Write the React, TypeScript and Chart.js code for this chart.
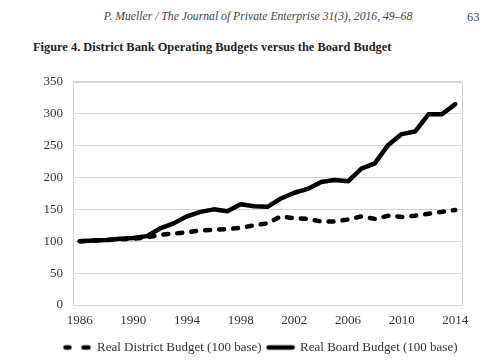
import React, { useEffect, useRef } from 'react';
import { Chart, registerables } from 'chart.js';
Chart.register(...registerables);

const years = ['1986','1987','1988','1989','1990','1991','1992','1993','1994','1995','1996','1997','1998','1999','2000','2001','2002','2003','2004','2005','2006','2007','2008','2009','2010','2011','2012','2013','2014'];
const tickYears = ['1986','1990','1994','1998','2002','2006','2010','2014'];
const districtBudget = [100,101,102,103,104,106,110,112,114,117,118,119,121,125,128,139,136,135,131,131,134,139,135,140,138,140,143,146,149];
const boardBudget = [100,101,102,104,105,108,120,128,139,146,150,147,158,155,154,167,176,182,193,196,194,214,222,251,268,272,299,299,315];
const districtLabel = 'Real District Budget (100 base)';
const boardLabel = 'Real Board Budget (100 base)';
const headerText = 'P. Mueller / The Journal of Private Enterprise 31(3), 2016, 49–68';
const pageNumber = '63';
const figureTitle = 'Figure 4. District Bank Operating Budgets versus the Board Budget';

const FONT = '"Liberation Serif", "DejaVu Serif", serif';

function makeMarker(dashed: boolean): HTMLCanvasElement {
  const c = document.createElement('canvas');
  c.width = 30;
  c.height = 8;
  const ctx = c.getContext('2d')!;
  ctx.strokeStyle = '#000';
  ctx.lineWidth = 4.5;
  ctx.lineCap = 'round';
  ctx.beginPath();
  if (dashed) {
    ctx.moveTo(3, 4); ctx.lineTo(7, 4);
    ctx.moveTo(21, 4); ctx.lineTo(26, 4);
  } else {
    ctx.moveTo(3, 4); ctx.lineTo(27, 4);
  }
  ctx.stroke();
  return c;
}

export default function App() {
  const ref = useRef<HTMLCanvasElement | null>(null);
  useEffect(() => {
    if (!ref.current) return;
    const markers = [makeMarker(true), makeMarker(false)];
    const borderPlugin = {
      id: 'plotBorder',
      afterLayout(chart: any) {
        const lg = chart.legend;
        if (lg) {
          lg.left += 30;
          lg.right += 30;
          lg.top += 4;
          lg.bottom += 4;
        }
      },
      afterDraw(chart: any) {
        const { ctx, chartArea } = chart;
        ctx.save();
        ctx.strokeStyle = '#d4d4d4';
        ctx.lineWidth = 1;
        ctx.strokeRect(chartArea.left + 0.5, chartArea.top + 0.5, chartArea.right - chartArea.left, chartArea.bottom - chartArea.top);
        ctx.restore();
      },
    };
    const chart = new Chart(ref.current, {
      type: 'line',
      data: {
        labels: years,
        datasets: [
          {
            label: districtLabel,
            data: districtBudget,
            borderColor: '#000',
            borderWidth: 4.5,
            borderDash: [5, 9],
            borderCapStyle: 'round',
            borderJoinStyle: 'round',
            pointRadius: 0,
            tension: 0,
          },
          {
            label: boardLabel,
            data: boardBudget,
            borderColor: '#000',
            borderWidth: 4.5,
            borderCapStyle: 'round',
            borderJoinStyle: 'round',
            pointRadius: 0,
            tension: 0,
          },
        ],
      },
      options: {
        animation: false,
        responsive: false,
        layout: { padding: { left: 0, right: 23, top: 6, bottom: 0 } },
        plugins: {
          tooltip: { enabled: false },
          legend: {
            position: 'bottom',
            labels: {
              usePointStyle: true,
              pointStyleWidth: 26,
              padding: 6,
              color: '#333',
              font: { family: FONT, size: 13 },
              generateLabels: (c: any) =>
                c.data.datasets.map((ds: any, i: number) => ({
                  text: ds.label,
                  pointStyle: markers[i],
                  fillStyle: '#000',
                  strokeStyle: '#000',
                  lineWidth: 0,
                  hidden: false,
                  datasetIndex: i,
                  fontColor: '#333',
                })),
            },
          },
        },
        scales: {
          x: {
            offset: true,
            afterFit: (axis: any) => { axis.height = 26; },
            grid: { display: false, drawTicks: false },
            border: { display: true, color: '#d4d4d4' },
            ticks: {
              autoSkip: false,
              maxRotation: 0,
              padding: 8,
              color: '#333',
              font: { family: FONT, size: 13 },
              callback: function (this: any, v: any) {
                const l = years[v as number];
                return tickYears.includes(l) ? l : '';
              },
            },
          },
          y: {
            min: 0,
            max: 350,
            afterFit: (axis: any) => { axis.width = 73; },
            grid: { color: '#d4d4d4', drawTicks: false },
            border: { display: true, color: '#d4d4d4' },
            ticks: {
              stepSize: 50,
              padding: 10,
              color: '#333',
              font: { family: FONT, size: 13 },
            },
          },
        },
      },
      plugins: [borderPlugin],
    } as any);
    return () => chart.destroy();
  }, []);

  return (
    <div style={{ position: 'absolute', left: 0, top: 0, width: 485, height: 360, background: '#fff', fontFamily: FONT }}>
      <div style={{ position: 'absolute', left: 0, width: 516, top: 10, textAlign: 'center', fontStyle: 'italic', fontSize: 11.7, color: '#444', whiteSpace: 'nowrap' }}>{headerText}</div>
      <div style={{ position: 'absolute', left: 467, top: 10, fontSize: 12.5, color: '#444' }}>{pageNumber}</div>
      <div style={{ position: 'absolute', left: 33, top: 40, fontWeight: 'bold', fontSize: 12.4, color: '#222', whiteSpace: 'nowrap' }}>{figureTitle}</div>
      <canvas ref={ref} width={485} height={296} style={{ position: 'absolute', left: 0, top: 64 }} />
    </div>
  );
}
